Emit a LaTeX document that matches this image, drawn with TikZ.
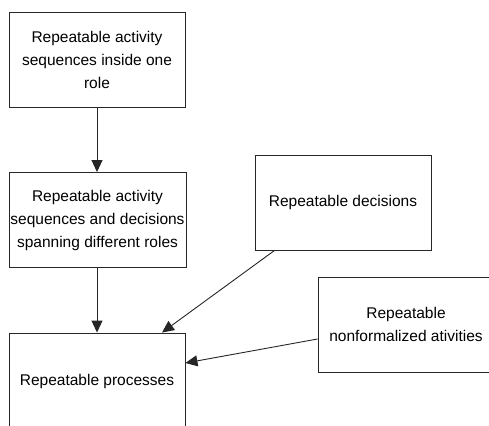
\documentclass[tikz,border=0pt]{standalone}
\usepackage{fontspec}
\setmainfont{Liberation Sans}
\usetikzlibrary{arrows.meta,calc}
\begin{document}
\begin{tikzpicture}[x=1pt,y=-1pt,
  box/.style={draw=black!85,line width=0.9pt,rectangle,minimum width=176pt,minimum height=95pt,align=center,font=\fontsize{15.5}{23}\selectfont,inner sep=0pt},
  conn/.style={draw=black!85,line width=0.9pt,-{Triangle[length=12pt,width=11pt]}}]
\useasboundingbox (0,0) rectangle (489,425);
\node[box] (a) at (97,59.5) {Repeatable activity\\sequences inside one\\role};
\node[box,minimum width=177pt] (b) at (97.5,220) {Repeatable activity\\sequences and decisions\\spanning different roles};
\node[box,minimum height=96pt] (c) at (97,381) {Repeatable processes};
\node[box] (d) at (343,202.5) {Repeatable decisions};
\node[box] (e) at (406,324.5) {Repeatable\\nonformalized ativities};
\draw[conn] (a.south) -- (a.south |- b.north);
\draw[conn] (b.south -| c.north) -- (c.north);
\draw[conn] (d.215) -- ($(c.north)+(65,0)$);
\draw[conn] ($(e.west)+(0,14.5)$) -- ($(c.east)+(0,-18)$);
\end{tikzpicture}
\end{document}
